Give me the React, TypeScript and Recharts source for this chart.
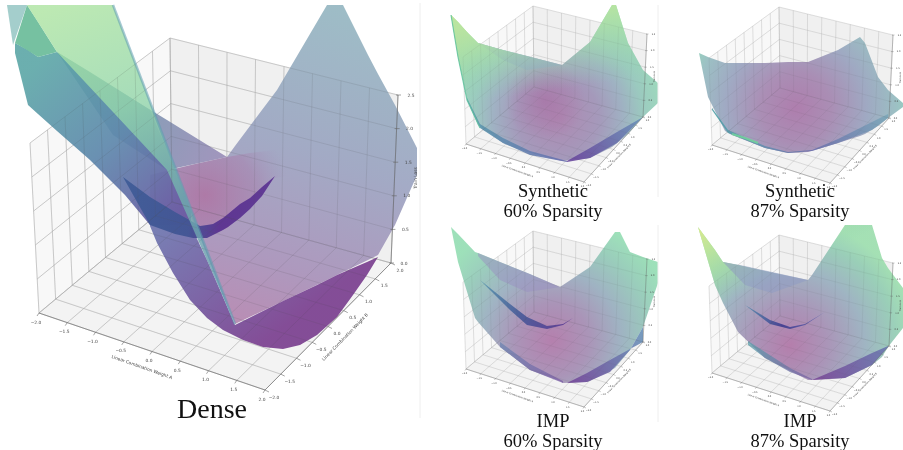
import { ComposedChart, Area, Line, XAxis, YAxis, ReferenceDot } from "recharts";

type Row = [number, number, number]; // x, upper edge, lower edge (picture position)
type Pt = [number, number];

// ---- tick labels
const weightTicks = ["\u22122.0", "\u22121.5", "\u22121.0", "\u22120.5", "0.0", "0.5", "1.0", "1.5", "2.0"];
const lossTicks = ["0.0", "0.5", "1.0", "1.5", "2.0", "2.5"];

// ---- Dense, outlines
const denseBackWing: Row[] = [[57, 52, 52], [113, 87, 135], [167, 120, 170], [227, 157, 157]];
const denseRightSheet: Row[] = [
  [170, 170, 170], [195, 164, 225], [227, 157, 304], [235, 146, 324], [277, 90, 304], [327, 5, 280],
  [343, 5, 272], [368, 55, 260], [378, 74, 255], [395, 105, 225], [417, 148, 175],
];
const denseBowl: Row[] = [[150, 175, 215], [170, 170, 232], [200, 163, 236], [227, 157, 228], [250, 153, 205], [275, 150, 178], [310, 160, 172]];
const denseLeftSheet: Row[] = [
  [15, 43, 53], [28, 50, 105], [38, 57, 114], [57, 52, 131], [90, 72, 160], [125, 94, 195], [150, 110, 225], [167, 150, 225], [191, 212, 225],
];
const denseBelly: Row[] = [
  [150, 225, 226], [157, 225, 243], [173, 225, 273], [190, 224, 300], [207, 260, 318], [223, 297, 330], [235, 325, 336],
  [243, 321, 340], [263, 311, 347], [283, 301, 349], [300, 293, 345], [317, 285, 335], [337, 275, 317], [353, 268, 295],
  [367, 262, 275], [378, 257, 257],
];
const denseCrescent: Row[] = [
  [123, 177, 177], [150, 197, 225], [175, 212, 234], [193, 222, 238], [200, 226, 238], [207, 225, 238], [213, 224, 235],
  [223, 218, 230], [228, 214, 227], [240, 204, 218], [250, 198, 209], [262, 187, 196], [275, 176, 176],
];
const denseWedge: Row[] = [[15, 43, 43], [27, 5, 50], [38, 22, 57], [57, 52, 52]];
const denseCorner: Row[] = [[7, 5, 5], [13, 5, 45], [27, 5, 5]];
const denseFin: Row[] = [[27, 5, 5], [45, 5, 33], [57, 5, 52], [113, 5, 112], [167, 146, 170], [191, 209, 224], [235, 324, 324]];
const denseFinEdge: Pt[] = [[113, 5], [235, 324]];

// ---- Synthetic 60%
const s60Sheet: Row[] = [
  [451, 15, 15], [458, 22, 57], [467, 32, 100], [478, 43, 125], [503, 50, 143], [527, 56, 152], [562, 65, 161],
  [590, 42, 158], [612, 5, 147], [616, 5, 144], [628, 43, 134], [643, 70, 117], [658, 83, 103],
];
const s60Back: Row[] = [[478, 43, 43], [503, 50, 60], [527, 56, 70], [562, 65, 65]];
const s60Rim: Row[] = [[467, 98, 100], [480, 124, 128], [503, 138, 143], [530, 151, 155], [567, 161, 162]];
const s60Wedge: Row[] = [[567, 161, 162], [590, 148, 158], [617, 132, 143], [643, 117, 117]];
const s60Edge: Pt[] = [[451, 15], [458, 57], [467, 100], [480, 128]];

// ---- Synthetic 87%
const s87Sheet: Row[] = [
  [699, 53, 53], [708, 57, 97], [725, 63, 131], [732, 63, 135], [765, 63, 148], [788, 62, 153], [808, 62, 152],
  [838, 50, 143], [860, 37, 136], [865, 43, 134], [878, 77, 126], [888, 90, 118], [903, 103, 107],
];
const s87Rim: Row[] = [[712, 108, 110], [728, 130, 133], [765, 146, 148], [788, 152, 153], [812, 150, 151]];
const s87Wedge: Row[] = [[812, 150, 151], [838, 139, 143], [872, 122, 130], [888, 114, 118]];
const s87Edge: Pt[] = [[732, 134], [745, 138], [758, 143]];

// ---- IMP 60%
const i60Sheet: Row[] = [
  [451, 227, 227], [458, 234, 262], [475, 252, 318], [478, 253, 322], [500, 262, 347], [530, 274, 370], [560, 287, 381],
  [563, 285, 383], [587, 269, 382], [590, 267, 381], [615, 232, 368], [620, 232, 362], [630, 252, 350], [643, 257, 327], [658, 262, 283],
];
const i60Back: Row[] = [[478, 253, 256], [500, 262, 280], [527, 273, 292], [560, 287, 287]];
const i60Crescent: Row[] = [[480, 280, 280], [510, 304, 310], [527, 317, 325], [547, 326, 329], [563, 324, 325], [573, 318, 318]];
const i60Wedge: Row[] = [[567, 383, 383], [587, 373, 382], [610, 360, 372], [630, 349, 350], [643, 342, 327]];
const i60Fold: Row[] = [[500, 342, 347], [530, 364, 370], [563, 381, 383]];

// ---- IMP 87%
const i87Sheet: Row[] = [
  [698, 227, 227], [715, 250, 285], [723, 262, 303], [738, 265, 332], [765, 271, 358], [808, 280, 380], [812, 275, 380],
  [845, 225, 378], [872, 225, 365], [882, 258, 357], [888, 268, 347], [903, 288, 328],
];
const i87Back: Row[] = [[723, 262, 262], [745, 266, 285], [772, 272, 293], [808, 280, 280]];
const i87Crescent: Row[] = [[745, 305, 305], [770, 320, 324], [790, 327, 329], [805, 324, 325], [825, 312, 312]];
const i87Wedge: Row[] = [[812, 380, 380], [845, 366, 378], [872, 353, 365], [888, 346, 347]];
const i87Fold: Row[] = [[748, 341, 345], [765, 352, 358], [790, 368, 372], [812, 379, 380]];

// ---- plot box corners: back, back top, left, left top, right, right top, front
const denseBox: Pt[] = [[172, 202], [170, 38], [39, 313], [30, 143], [391, 263], [398, 95], [265, 390]];
const smallBox: Pt[] = [[534, 87], [533, 6], [466, 144], [463, 57], [643, 117], [647, 34], [584, 182]];

const mix = (a: Pt, b: Pt, t: number): Pt => [a[0] + (b[0] - a[0]) * t, a[1] + (b[1] - a[1]) * t];
const shift = (box: Pt[], dx: number, dy: number): Pt[] => box.map(([x, y]) => [x + dx, y + dy] as Pt);

const toBand = (rows: Row[]) => rows.map(([x, top, bottom]) => ({ x, band: [top, bottom] }));
const toLine = (pts: Pt[]) => pts.map(([x, y]) => ({ x, y }));

// convex pane polygon -> band rows
const paneRows = (poly: Pt[]): Row[] => {
  const xs = [...new Set(poly.map((p) => p[0]))].sort((a, b) => a - b);
  return xs.map((x) => {
    const ys: number[] = [];
    poly.forEach((p, i) => {
      const q = poly[(i + 1) % poly.length];
      const lo = Math.min(p[0], q[0]);
      const hi = Math.max(p[0], q[0]);
      if (x < lo || x > hi) return;
      if (p[0] === q[0]) ys.push(p[1], q[1]);
      else ys.push(p[1] + ((q[1] - p[1]) * (x - p[0])) / (q[0] - p[0]));
    });
    return [x, Math.min(...ys), Math.max(...ys)] as Row;
  });
};

// segments joined with gaps, so one Line draws a whole grid
const joinSegments = (segs: [Pt, Pt][]) =>
  segs.flatMap(([a, b]) => [
    { x: a[0], y: a[1] as number | null },
    { x: b[0], y: b[1] as number | null },
    { x: b[0], y: null },
  ]);

const gridSegments = (box: Pt[]) => {
  const [K, T, L, LT, R, RT, F] = box;
  const segs: [Pt, Pt][] = [];
  weightTicks.forEach((_, i) => {
    const t = i / 8;
    segs.push([mix(L, F, t), mix(K, R, t)]);
    segs.push([mix(F, R, t), mix(L, K, t)]);
    segs.push([mix(K, R, t), mix(T, RT, t)]);
    segs.push([mix(L, K, t), mix(LT, T, t)]);
  });
  lossTicks.forEach((_, j) => {
    const t = j / 5;
    segs.push([mix(K, T, t), mix(R, RT, t)]);
    segs.push([mix(L, LT, t), mix(K, T, t)]);
  });
  return segs;
};

const axisSegments = (box: Pt[], k: number) => {
  const [, , L, , R, RT, F] = box;
  const segs: [Pt, Pt][] = [[L, F], [F, R], [R, RT]];
  weightTicks.forEach((_, i) => {
    const a = mix(L, F, i / 8);
    const b = mix(F, R, i / 8);
    segs.push([a, [a[0] - 2 * k, a[1] + 3 * k]]);
    segs.push([b, [b[0] + 4 * k, b[1] + 2 * k]]);
  });
  lossTicks.forEach((_, j) => {
    const c = mix(R, RT, j / 5);
    segs.push([[c[0] - 2 * k, c[1]], [c[0] + 3 * k, c[1]]]);
  });
  return segs;
};

const panels = [
  { box: denseBox, k: 1 },
  { box: smallBox, k: 0.5 },
  { box: shift(smallBox, 246, 1), k: 0.5 },
  { box: shift(smallBox, 0, 225), k: 0.5 },
  { box: shift(smallBox, 246, 229), k: 0.5 },
];

const surfaces = [
  // dense
  { rows: denseBackWing, fill: "url(#dBack)", op: 0.9 },
  { rows: denseRightSheet, fill: "url(#dRight)", op: 0.9 },
  { rows: denseBowl, fill: "url(#dBowl)", op: 1 },
  { rows: denseLeftSheet, fill: "url(#dLeft)", op: 0.92 },
  { rows: denseBelly, fill: "url(#dBelly)", op: 0.92 },
  { rows: denseCrescent, fill: "url(#dCres)", op: 0.95 },
  { rows: denseCorner, fill: "#9fcbc9", op: 0.95 },
  { rows: denseWedge, fill: "#6fbe9c", op: 0.95 },
  { rows: denseFin, fill: "url(#dFin)", op: 0.82 },
  // synthetic 60
  { rows: s60Sheet, fill: "url(#s60)", op: 0.88 },
  { rows: s60Sheet, fill: "url(#s60Blob)", op: 1 },
  { rows: s60Back, fill: "#8ea2c6", op: 0.55 },
  { rows: s60Sheet, fill: "url(#s60Tip)", op: 1 },
  { rows: s60Sheet, fill: "url(#s60Tip2)", op: 1 },
  { rows: s60Rim, fill: "url(#rimA)", op: 0.9 },
  { rows: s60Wedge, fill: "url(#wedgeA)", op: 0.9 },
  // synthetic 87
  { rows: s87Sheet, fill: "url(#s87)", op: 0.88 },
  { rows: s87Rim, fill: "url(#rimB)", op: 0.9 },
  { rows: s87Wedge, fill: "url(#wedgeB)", op: 0.85 },
  // imp 60
  { rows: i60Sheet, fill: "url(#i60)", op: 0.88 },
  { rows: i60Back, fill: "#9a90c2", op: 0.5 },
  { rows: i60Fold, fill: "url(#foldA)", op: 0.75 },
  { rows: i60Wedge, fill: "url(#wedgeC)", op: 0.9 },
  { rows: i60Crescent, fill: "url(#cresA)", op: 0.95 },
  // imp 87
  { rows: i87Sheet, fill: "url(#i87)", op: 0.88 },
  { rows: i87Sheet, fill: "url(#i87Tip)", op: 1 },
  { rows: i87Back, fill: "#8f9ac2", op: 0.55 },
  { rows: i87Fold, fill: "url(#foldB)", op: 0.75 },
  { rows: i87Wedge, fill: "url(#wedgeD)", op: 0.9 },
  { rows: i87Crescent, fill: "url(#cresB)", op: 0.95 },
];

const edges = [
  { pts: denseFinEdge, stroke: "#5f9db0", width: 2.5, op: 0.55 },
  { pts: s60Edge, stroke: "#5cc09c", width: 1.2, op: 0.8 },
  { pts: s87Edge, stroke: "#72d09c", width: 2, op: 0.9 },
];

const captions = [
  { text: "Dense", x: 212, y: 408, size: 28 },
  { text: "Synthetic", x: 553, y: 190, size: 18.5 },
  { text: "60% Sparsity", x: 553, y: 210, size: 18.5 },
  { text: "Synthetic", x: 800, y: 190, size: 18.5 },
  { text: "87% Sparsity", x: 800, y: 210, size: 18.5 },
  { text: "IMP", x: 553, y: 420, size: 18.5 },
  { text: "60% Sparsity", x: 553, y: 440, size: 18.5 },
  { text: "IMP", x: 800, y: 420, size: 18.5 },
  { text: "87% Sparsity", x: 800, y: 440, size: 18.5 },
];

const dividers: [Pt, Pt][] = [
  [[420, 3], [420, 418]],
  [[658, 5], [658, 197]],
  [[658, 225], [658, 422]],
];

const stops = (list: [number, string, number?][]) =>
  list.map(([o, c, a], i) => <stop key={i} offset={o} stopColor={c} stopOpacity={a ?? 1} />);

const lin = (id: string, x1: number, y1: number, x2: number, y2: number, list: [number, string, number?][]) => (
  <linearGradient id={id} key={id} gradientUnits="userSpaceOnUse" x1={x1} y1={y1} x2={x2} y2={y2}>
    {stops(list)}
  </linearGradient>
);

const rad = (id: string, cx: number, cy: number, r: number, list: [number, string, number?][]) => (
  <radialGradient id={id} key={id} gradientUnits="userSpaceOnUse" cx={cx} cy={cy} r={r}>
    {stops(list)}
  </radialGradient>
);

const tickDots = (box: Pt[], k: number) => {
  const [, , L, , R, RT, F] = box;
  const size = k === 1 ? 4.4 : 2.3;
  const out: { text: string; p: Pt; angle: number; size: number }[] = [];
  weightTicks.forEach((t, i) => {
    const a = mix(L, F, i / 8);
    const b = mix(F, R, i / 8);
    out.push({ text: t, p: [a[0] - 3 * k, a[1] + 9 * k], angle: 0, size });
    out.push({ text: t, p: [b[0] + 9 * k, b[1] + 7 * k], angle: 0, size });
  });
  lossTicks.forEach((t, j) => {
    const c = mix(R, RT, j / 5);
    out.push({ text: t, p: [c[0] + 13 * k, c[1]], angle: 0, size });
  });
  out.push({ text: "Linear Combination Weight A", p: [L[0] + 103 * k, L[1] + 54 * k], angle: 19.5, size });
  out.push({ text: "Linear Combination Weight B", p: [L[0] + 306 * k, L[1] + 24 * k], angle: -46, size });
  out.push({ text: "Train Loss", p: [L[0] + 376 * k, L[1] - 135 * k], angle: -90, size });
  return out;
};

const App = () => (
  <div style={{ position: "absolute", left: 0, top: 0, width: 903, height: 450, background: "#fff", filter: "blur(0.35px)" }}>
    <ComposedChart width={903} height={450} margin={{ top: 0, right: 0, bottom: 0, left: 0 }}>
      <defs>
        {lin("dBack", 60, 60, 227, 160, [[0, "#5f9aa8"], [1, "#9a8cb8"]])}
        {lin("dRight", 340, 10, 240, 320, [[0, "#93b5c0"], [0.45, "#9aa2c0"], [0.8, "#a68fb8"], [1, "#b283ae"]])}
        {rad("dBowl", 205, 195, 85, [[0, "#b06a9c", 0.7], [0.6, "#a878a8", 0.45], [1, "#a090b8", 0]])}
        {lin("dLeft", 30, 70, 190, 250, [[0, "#5fa8a8"], [0.45, "#5e88ac"], [0.8, "#655ea3"], [1, "#6a4c9c"]])}
        {lin("dBelly", 170, 225, 260, 345, [[0, "#6e74ae"], [0.5, "#735aa0"], [1, "#7a3f8f"]])}
        {lin("dCres", 125, 190, 275, 210, [[0, "#3f5c97"], [0.45, "#425594"], [0.65, "#5a3290"], [1, "#5e3694"]])}
        {lin("dFin", 60, 5, 190, 324, [[0, "#aee4a2"], [0.35, "#94d6ac"], [0.65, "#70aeae"], [1, "#6a93b2"]])}
        {rad("s60", 558, 118, 118, [[0, "#a47aa9"], [0.35, "#9a8db3"], [0.55, "#94a8bc"], [0.72, "#8fc4b8"], [1, "#90dcb0"]])}
        {rad("s60Blob", 545, 100, 40, [[0, "#a868a0", 0.55], [1, "#a868a0", 0]])}
        {lin("s60Tip", 451, 15, 485, 75, [[0, "#e4ec8c", 1], [0.5, "#b8e4a0", 0.6], [1, "#90d0b0", 0]])}
        {lin("s60Tip2", 614, 5, 625, 80, [[0, "#b8e4a0", 0.95], [1, "#90d0b0", 0]])}
        {lin("rimA", 470, 110, 567, 160, [[0, "#5a9cae"], [1, "#6a6fb0"]])}
        {lin("wedgeA", 575, 160, 643, 120, [[0, "#6a4a9e"], [1, "#6a90b8"]])}
        {rad("s87", 796, 108, 118, [[0, "#a56ea4"], [0.3, "#a080ac"], [0.6, "#949fbc"], [0.85, "#8fb8bc"], [1, "#88d0b4"]])}
        {lin("rimB", 715, 120, 812, 150, [[0, "#50a0a8"], [0.5, "#6490ae"], [1, "#6a70ac"]])}
        {lin("wedgeB", 815, 150, 888, 115, [[0, "#6a70ac"], [1, "#7aa6b8"]])}
        {rad("i60", 552, 340, 125, [[0, "#ac70a4"], [0.3, "#a088b0"], [0.55, "#94aabc"], [0.8, "#8ec8b4"], [1, "#90dcb0"]])}
        {lin("foldA", 490, 330, 565, 380, [[0, "#6a8eb4"], [1, "#7a5ca4"]])}
        {lin("wedgeC", 570, 380, 643, 340, [[0, "#74489a"], [1, "#6a90b8"]])}
        {lin("cresA", 480, 280, 573, 320, [[0, "#5c9ab0"], [0.5, "#4b5c9a"], [1, "#5e3a94"]])}
        {rad("i87", 790, 345, 125, [[0, "#ac6ea2"], [0.3, "#a088b0"], [0.6, "#94acbc"], [0.85, "#8ecab0"], [1, "#98dcaa"]])}
        {lin("i87Tip", 698, 227, 735, 300, [[0, "#dcea8c", 1], [0.6, "#a8e0a0", 0.6], [1, "#90d0b0", 0]])}
        {lin("foldB", 748, 340, 812, 380, [[0, "#58a0aa"], [1, "#7a60a4"]])}
        {lin("wedgeD", 815, 378, 888, 345, [[0, "#7a4a98"], [1, "#6a78b0"]])}
        {lin("cresB", 745, 305, 825, 320, [[0, "#5c8fae"], [0.5, "#433f92"], [1, "#6a6ab0"]])}
      </defs>
      <XAxis type="number" dataKey="x" domain={[0, 903]} hide allowDataOverflow />
      <YAxis type="number" domain={[0, 450]} reversed hide allowDataOverflow />

      {panels.flatMap(({ box }, n) => {
        const [K, T, L, LT, R, RT, F] = box;
        return [
          <Area key={`floor${n}`} data={toBand(paneRows([L, K, R, F]))} dataKey="band" fill="#f3f3f3" fillOpacity={1} stroke="none" dot={false} activeDot={false} isAnimationActive={false} zIndex={10} />,
          <Area key={`lw${n}`} data={toBand(paneRows([LT, T, K, L]))} dataKey="band" fill="#f8f8f8" fillOpacity={1} stroke="none" dot={false} activeDot={false} isAnimationActive={false} zIndex={10} />,
          <Area key={`rw${n}`} data={toBand(paneRows([T, RT, R, K]))} dataKey="band" fill="#f0f0f0" fillOpacity={1} stroke="none" dot={false} activeDot={false} isAnimationActive={false} zIndex={10} />,
        ];
      })}
      {panels.map(({ box, k }, n) => (
        <Line key={`grid${n}`} data={joinSegments(gridSegments(box))} dataKey="y" stroke="#cfcfcf" strokeWidth={k === 1 ? 0.8 : 0.45} dot={false} activeDot={false} isAnimationActive={false} zIndex={50} />
      ))}
      {surfaces.map((s, i) => (
        <Area key={`s${i}`} data={toBand(s.rows)} dataKey="band" fill={s.fill} fillOpacity={s.op} stroke="none" dot={false} activeDot={false} isAnimationActive={false} zIndex={100} />
      ))}
      {panels.map(({ box, k }, n) => (
        <Line key={`over${n}`} data={joinSegments(gridSegments(box))} dataKey="y" stroke="#555" strokeOpacity={0.15} strokeWidth={k === 1 ? 0.8 : 0.45} dot={false} activeDot={false} isAnimationActive={false} zIndex={150} />
      ))}
      {edges.map((e, i) => (
        <Line key={`e${i}`} data={toLine(e.pts)} dataKey="y" stroke={e.stroke} strokeWidth={e.width} strokeOpacity={e.op} dot={false} activeDot={false} isAnimationActive={false} zIndex={200} />
      ))}
      {panels.map(({ box, k }, n) => (
        <Line key={`axis${n}`} data={joinSegments(axisSegments(box, k))} dataKey="y" stroke="#666" strokeWidth={k === 1 ? 0.6 : 0.35} dot={false} activeDot={false} isAnimationActive={false} zIndex={200} />
      ))}
      {dividers.map((seg, i) => (
        <Line key={`div${i}`} data={toLine(seg)} dataKey="y" stroke="#eeeeee" strokeWidth={1} dot={false} activeDot={false} isAnimationActive={false} zIndex={200} />
      ))}
      {panels.flatMap(({ box, k }, n) =>
        tickDots(box, k).map((t, i) => (
          <ReferenceDot
            key={`t${n}-${i}`}
            x={t.p[0]}
            y={t.p[1]}
            r={0}
            stroke="none"
            fill="none"
            ifOverflow="visible"
            label={{ value: t.text, position: "center", fontSize: t.size, fill: "#444", fontFamily: "DejaVu Sans", angle: t.angle }}
          />
        ))
      )}
      {captions.map((c, i) => (
        <ReferenceDot
          key={`c${i}`}
          x={c.x}
          y={c.y}
          r={0}
          stroke="none"
          fill="none"
          ifOverflow="visible"
          label={{ value: c.text, position: "center", fontSize: c.size, fill: "#111", fontFamily: "Liberation Serif" }}
        />
      ))}
    </ComposedChart>
  </div>
);

export default App;
